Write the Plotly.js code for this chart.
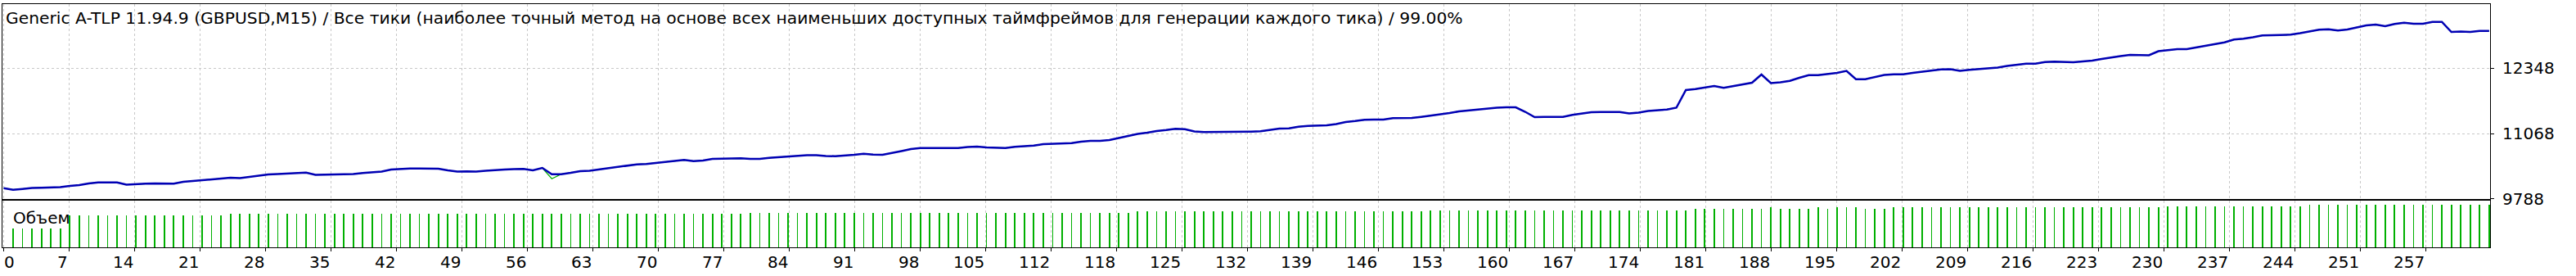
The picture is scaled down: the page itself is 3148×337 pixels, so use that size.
<!DOCTYPE html>
<html><head><meta charset="utf-8">
<script src="https://cdn.plot.ly/plotly-3.0.1.min.js"></script>
<style>html,body{margin:0;padding:0;background:#fff;overflow:hidden;} #chart{width:3148px;height:337px;}</style>
</head><body><div id="chart"></div>
<script>
// Balance after each trade (trade 0 = initial deposit)
const balance = [
10000,9969,9985,10004,10009,10012,10020,10044,10060,10092,
10111,10113,10113,10068,10081,10087,10092,10087,10087,10124,
10140,10156,10172,10183,10204,10196,10220,10244,10268,10276,
10284,10289,10305,10260,10268,10268,10271,10276,10295,10308,
10324,10364,10380,10385,10385,10383,10380,10348,10324,10327,
10324,10340,10356,10364,10372,10377,10348,10396,10273,10273,
10300,10332,10340,10364,10386,10412,10436,10465,10473,10492,
10513,10532,10551,10529,10540,10572,10575,10580,10583,10572,
10572,10593,10607,10620,10636,10644,10644,10628,10625,10636,
10652,10673,10655,10652,10684,10724,10764,10785,10785,10785,
10785,10785,10804,10812,10796,10788,10785,10807,10817,10831,
10860,10868,10868,10879,10908,10924,10924,10940,10980,11020,
11060,11084,11116,11135,11159,11151,11108,11095,11095,11095,
11105,11105,11105,11111,11143,11164,11167,11201,11217,11217,
11228,11252,11292,11311,11335,11340,11340,11367,11369,11372,
11393,11414,11441,11468,11500,11519,11532,11556,11572,11580,
11580,11492,11388,11393,11393,11393,11431,11455,11484,11489,
11489,11489,11460,11476,11508,11524,11537,11572,11916,11935,
11964,11996,11959,11996,12028,12060,12220,12052,12068,12097,
12156,12209,12209,12225,12252,12292,12129,12129,12172,12212,
12225,12225,12252,12276,12300,12319,12324,12292,12311,12324,
12340,12356,12388,12415,12431,12433,12465,12471,12465,12460,
12476,12492,12524,12556,12580,12604,12604,12596,12676,12700,
12716,12716,12748,12785,12815,12847,12903,12919,12948,12983,
12988,12993,12999,13028,13060,13095,13103,13079,13100,13140,
13180,13196,13164,13207,13233,13212,13212,13249,13249,13052,
13060,13052,13073,13073
];
// Equity differs from balance only where a floating drawdown is visible
const equityDipIndex = [58];
const equityDipValue = [10185];

// Lot volume of trades 1..263
const volume = [
0.10,0.10,0.10,0.10,0.10,0.10,
0.17,0.17,0.17,0.17,0.17,0.17,0.17,0.17,0.17,0.17,0.17,0.17,0.17,0.17,0.17,0.17,0.17,
0.18,0.18,0.18,0.18,0.18,0.18,0.18,0.18,0.18,0.18,0.18,0.18,0.18,0.18,0.18,0.18,0.18,0.18,0.18,0.18,
0.18,0.18,0.18,0.18,0.18,0.18,0.18,0.18,0.18,0.18,0.18,0.18,0.18,0.18,0.18,0.18,0.18,0.18,0.18,0.18,
0.18,0.18,0.18,0.18,0.18,0.18,0.18,0.18,0.18,0.18,0.18,0.18,0.18,0.18,0.18,
0.185,0.185,0.185,0.185,0.185,0.185,0.185,0.185,0.185,0.185,0.185,0.185,0.185,0.185,0.185,0.185,0.185,0.185,0.185,0.185,
0.185,0.185,0.185,0.185,0.185,0.185,0.185,0.185,0.185,0.185,0.185,0.185,0.185,0.185,0.185,0.185,0.185,0.185,0.185,0.185,0.185,
0.195,0.195,0.195,0.195,0.195,0.195,0.195,0.195,0.195,0.195,0.195,0.195,0.195,0.195,0.195,0.195,
0.195,0.195,0.195,0.195,0.195,0.195,0.195,0.195,0.195,0.195,0.195,0.195,0.195,0.195,0.195,
0.20,0.20,0.20,0.20,0.20,0.20,0.20,0.20,0.20,0.20,0.20,0.20,0.20,0.20,
0.20,0.20,0.20,0.20,0.20,0.20,0.20,0.20,0.20,0.20,0.20,0.20,0.20,0.20,
0.205,0.205,0.205,0.205,0.205,0.205,0.205,0.205,0.215,0.205,0.205,0.205,0.205,0.215,0.205,0.215,0.215,0.215,0.205,0.205,0.205,
0.215,0.215,0.215,0.215,0.215,0.215,0.215,0.215,0.215,0.215,0.215,0.215,0.215,0.215,0.215,
0.215,0.215,0.215,0.215,0.215,0.215,0.215,0.215,0.215,0.215,0.215,0.215,0.215,0.215,
0.22,0.22,0.22,0.22,0.22,0.22,0.22,0.22,0.22,0.22,0.22,0.22,0.22,0.22,0.22,
0.23,0.23,0.23,0.23,0.23,0.23,0.23,0.23,0.23,0.23,0.23,0.23,0.23,0.23,0.23,0.23,0.23,0.23,0.23,0.23
];

const xTickLabels = ["0","7","14","21","28","35","42","49","56","63","70","77","84","91","98","105","112",
  "118","125","132","139","146","153","160","167","174","181","188","195","202","209","216","223","230",
  "237","244","251","257"];
const yTickValues = [9788, 11068, 12348];
const titleText = "Generic A-TLP 11.94.9 (GBPUSD,M15) / Все тики (наиболее точный метод на основе всех наименьших доступных таймфреймов для генерации каждого тика) / 99.00%";
const volumeLabel = "Объем";

// ---- build traces ----
const tradeIdx = balance.map((_, i) => i);
const volIdx = volume.map((_, i) => i + 1);
const equity = balance.slice();
equityDipIndex.forEach((k, j) => { equity[k] = equityDipValue[j]; });

const TICK_STEP = 6.927;
const tickVals = xTickLabels.map((_, k) => k * TICK_STEP);

const FONT = "DejaVu Sans";
const GRID = "#c8c8c8";

const traces = [
  {type: "scatter", mode: "lines", x: tradeIdx, y: equity, xaxis: "x", yaxis: "y",
   line: {color: "#00b000", width: 1.2}, hoverinfo: "skip"},
  {type: "scatter", mode: "lines", x: tradeIdx, y: balance, xaxis: "x", yaxis: "y",
   line: {color: "#0000b4", width: 2.5}, hoverinfo: "skip"},
  {type: "bar", x: volIdx, y: volume, xaxis: "x2", yaxis: "y2", width: 0.15,
   marker: {color: "#00b000", line: {width: 0}}, hoverinfo: "skip"}
];

// x tick labels: MT4 draws them flush right against the tick (first one flush left)
const tickAnnotations = xTickLabels.map((s, k) => ({
  text: s, xref: "x2", yref: "paper", x: tickVals[k], y: 0,
  xanchor: k === 0 ? "left" : "right", yanchor: "middle", yshift: -18, xshift: k === 0 ? -1 : 1,
  showarrow: false, font: {family: FONT, size: 20, color: "#000"}
}));

const xRange = [-0.126, 263.1];
const layout = {
  width: 3148, height: 337,
  margin: {l: 3, r: 105, t: 5, b: 35, pad: 0},
  paper_bgcolor: "#ffffff", plot_bgcolor: "#ffffff",
  showlegend: false, bargap: 0,
  title: {text: titleText, xref: "container", yref: "container", x: 7/3148, xanchor: "left",
          y: 1 - 22/337, yanchor: "middle", font: {family: FONT, size: 20.3, color: "#000"}},
  xaxis: {domain: [0, 1], anchor: "y", range: xRange, tickmode: "array", tickvals: tickVals,
          showticklabels: false, ticks: "", showgrid: true, gridcolor: GRID, griddash: "3px,3px", gridwidth: 1,
          showline: true, linecolor: "#000", linewidth: 1, mirror: true, zeroline: false},
  yaxis: {domain: [59/297, 1], anchor: "x", side: "right", range: [9787.9, 13596],
          tickmode: "array", tickvals: yTickValues, tickformat: "d", ticks: "outside", ticklen: 4, tickcolor: "#000",
          ticklabelstandoff: 6,
          tickfont: {family: FONT, size: 20, color: "#000"}, showgrid: true, gridcolor: GRID,
          griddash: "3px,3px", gridwidth: 1, showline: true, linecolor: "#000", linewidth: 1,
          mirror: true, zeroline: false},
  xaxis2: {domain: [0, 1], anchor: "y2", matches: "x", range: xRange, tickmode: "array",
           tickvals: tickVals, showticklabels: false, ticks: "outside", ticklen: 4, tickcolor: "#000",
           showgrid: true, gridcolor: GRID,
           griddash: "3px,3px", gridwidth: 1, showline: true, linecolor: "#000", linewidth: 1,
           mirror: true, zeroline: false},
  yaxis2: {domain: [0, 57/297], anchor: "x2", range: [0, 0.251], showticklabels: false, ticks: "",
           showgrid: false, showline: true, linecolor: "#000", linewidth: 1, mirror: true, zeroline: false},
  annotations: [{text: volumeLabel, xref: "paper", yref: "paper", x: 0, xanchor: "left", xshift: 11,
                 y: (302 - 266)/297, yanchor: "middle", showarrow: false,
                 font: {family: FONT, size: 20, color: "#000"}}].concat(tickAnnotations)
};

Plotly.newPlot("chart", traces, layout, {staticPlot: true, displayModeBar: false});
</script>
</body></html>
